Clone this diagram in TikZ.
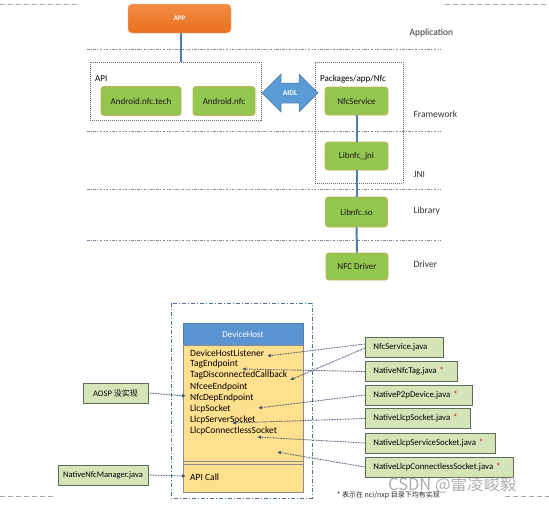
\documentclass[tikz,border=0pt]{standalone}
\usepackage{fontspec}
\setmainfont{Carlito}
\newfontfamily\cjk{Noto Sans CJK SC}
\usetikzlibrary{arrows.meta,calc}
\definecolor{appTop}{HTML}{F28C45}
\definecolor{appBot}{HTML}{E8701E}
\definecolor{greenfill}{HTML}{92C750}
\definecolor{greenedge}{HTML}{C9A95A}
\definecolor{linkblue}{HTML}{4A7EBB}
\definecolor{aidlblue}{HTML}{5B9BD5}
\definecolor{layerline}{HTML}{7F8C9F}
\definecolor{hdrblue}{HTML}{5B93D3}
\definecolor{bodyyellow}{HTML}{FFE08F}
\definecolor{jfill}{HTML}{D5E5B9}
\definecolor{jedge}{HTML}{5E6B55}
\definecolor{arrowcol}{HTML}{3E4F70}
\definecolor{outerbox}{HTML}{4F6F95}
\begin{document}
\begin{tikzpicture}[x=1pt,y=-1pt,
  greenbox/.style={draw=greenedge, line width=0.8pt, fill=greenfill, rounded corners=3pt,
    font=\fontsize{9}{10}\selectfont, text=black!90, inner sep=0pt},
  link/.style={draw=linkblue, line width=2pt},
  layerline/.style={draw=layerline, line width=0.6pt, dash pattern=on 2.5pt off 1.5pt on 0.8pt off 1.5pt},
  dotbox/.style={draw=black!60, line width=0.6pt, dash pattern=on 1pt off 1pt},
  layerlbl/.style={font=\fontsize{9.5}{11}\selectfont, text=black!80, anchor=west},
  item/.style={font=\fontsize{9.5}{11}\selectfont, text=black, anchor=west, inner sep=0pt},
  javabox/.style={draw=jedge, line width=0.8pt, fill=jfill, anchor=west, minimum height=20pt,
    inner xsep=8pt, inner ysep=0pt, text width=#1, align=left, font=\fontsize{8.8}{10}\selectfont},
  leftbox/.style={draw=jedge, line width=0.8pt, fill=jfill, minimum height=20pt,
    inner sep=0pt, font=\fontsize{8.5}{10}\selectfont},
  dotarrow/.style={draw=arrowcol, line width=0.9pt, dash pattern=on 0.8pt off 0.8pt,
    -{Latex[length=4pt,width=3.6pt]}},
  crop/.style={draw=black!35, line width=0.5pt, dash pattern=on 5pt off 3pt}
]
\useasboundingbox (0,0) rectangle (549,509);

% crop marks
\draw[crop] (0,4) -- (80,4);
\draw[crop] (445,4) -- (549,4);
\draw[crop] (0,496) -- (55,496);
\draw[crop] (505,496) -- (549,496);

% layer lines
\draw[layerline] (87,49) -- (440,49);
\draw[layerline] (87,131) -- (440,131);
\draw[layerline] (87,189) -- (440,189);
\draw[layerline] (87,240) -- (440,240);

% layer labels
\node[layerlbl] (lapp) at (406,33) {Application};
\node[layerlbl] (lfw) at (410,114) {Framework};
\node[layerlbl] (ljni) at (410,174) {JNI};
\node[layerlbl] (llib) at (410,211) {Library};
\node[layerlbl] (ldrv) at (410,264) {Driver};

% APP
\node[draw=appTop!70!white, top color=appTop, bottom color=appBot, rounded corners=4pt,
  minimum width=103, minimum height=29, text=white, inner sep=0pt,
  font=\bfseries\fontsize{7}{8}\selectfont] (app) at (179.5,18.5) {APP};

% API dotted box
\node[dotbox, minimum width=171, minimum height=58, inner sep=0pt] (apibox) at (175.5,91) {};
\node[anchor=west, font=\fontsize{9}{10}\selectfont, inner sep=0pt] (apilbl) at (95,79) {API};
\draw[link] (app.south -| 181,0) -- (apibox.north -| 181,0);

\node[greenbox, minimum width=80, minimum height=29] (tech) at (141,101) {Android.nfc.tech};
\node[greenbox, minimum width=62, minimum height=29] (anfc) at (224,101) {Android.nfc};

% Framework dotted box
\node[dotbox, minimum width=88, minimum height=121, inner sep=0pt] (fwbox) at (359,122.5) {};
\node[anchor=west, font=\fontsize{9}{10}\selectfont, inner sep=0pt] (pkg) at (320,79) {Packages/app/Nfc};

% AIDL arrow
\filldraw[fill=aidlblue, draw=aidlblue!80!black, line width=0.5pt]
  (262,93) -- (281,74) -- (281,83) -- (299,83) -- (299,74) -- (318,93)
  -- (299,112) -- (299,103) -- (281,103) -- (281,112) -- cycle;
\node[text=white, font=\bfseries\fontsize{7.5}{8}\selectfont] (aidl) at (290,93) {AIDL};

% stack
\node[greenbox, minimum width=63, minimum height=28] (nfcsvc) at (356.5,101) {NfcService};
\node[greenbox, minimum width=63, minimum height=28] (jni) at (356.5,156) {Libnfc\_jni};
\node[greenbox, minimum width=62, minimum height=30] (so) at (356.5,212) {Libnfc.so};
\node[greenbox, minimum width=62, minimum height=27] (drv) at (357,266.5) {NFC Driver};
\draw[link] (nfcsvc) -- (jni);
\draw[link] (jni) -- (so);
\draw[link] (so) -- (drv);

% ---------------- lower part ----------------
\draw[draw=outerbox, line width=1pt, dash pattern=on 4pt off 2pt on 1pt off 2pt]
  (171,303) rectangle (312,498);

\node[draw=hdrblue!85!black, line width=0.5pt, fill=hdrblue, minimum width=120, minimum height=22,
  inner sep=0pt, text=white, font=\fontsize{9}{10}\selectfont] (dh) at (243,334) {DeviceHost};
\node[draw=black!45, line width=0.6pt, fill=bodyyellow, minimum width=120, minimum height=147,
  inner sep=0pt, anchor=north] (dhbody) at (dh.south) {};
\draw[draw=black!45, line width=0.5pt] ($(dhbody.west)+(0,42.5)$) -- ($(dhbody.east)+(0,42.5)$);
\draw[draw=black!45, line width=0.5pt] ($(dhbody.west)+(0,45)$) -- ($(dhbody.east)+(0,45)$);

\node[item] (dhl) at (190,353) {DeviceHostListener};
\node[item] (te) at (190,364) {TagEndpoint};
\node[item] (tdc) at (190,375.5) {TagDisconnectedCallback};
\node[item] (nee) at (190,387) {NfceeEndpoint};
\node[item] (nde) at (190,398) {NfcDepEndpoint};
\node[item] (ls) at (190,409) {LlcpSocket};
\node[item] (lss) at (190,420) {LlcpServerSocket};
\node[item] (lcs) at (190,431) {LlcpConnectlessSocket};
\node[item] (apicall) at (190,477) {API Call};

% right boxes
\node[javabox=62] (jnfs) at (365,347) {NfcService.java};
\node[javabox=76] (jtag) at (365,371.5) {NativeNfcTag.java {\color{red!85!black}*}};
\node[javabox=91] (jp2p) at (365,395) {NativeP2pDevice.java {\color{red!85!black}*}};
\node[javabox=89] (jls) at (365,418.5) {NativeLlcpSocket.java {\color{red!85!black}*}};
\node[javabox=114] (jlss) at (365,443) {NativeLlcpServiceSocket.java {\color{red!85!black}*}};
\node[javabox=132] (jlcs) at (365,467) {NativeLlcpConnectlessSocket.java {\color{red!85!black}*}};

% left boxes
\node[leftbox, minimum width=65] (aosp) at (115.5,393) {AOSP {\cjk\fontsize{8}{9}\selectfont 没实现}};
\node[leftbox, minimum width=90] (nnm) at (103,475) {NativeNfcManager.java};

% arrow targets
\coordinate (t1) at (267,356);
\coordinate (t2) at (290,380);
\coordinate (t3) at (242,369);
\coordinate (t4) at (258,408);
\coordinate (t5) at (232,423);
\coordinate (t6) at (257,437);
\coordinate (t7) at (277,452);
\coordinate (t8) at (186,396);
\coordinate (t9) at (186,476);

\draw[dotarrow] ($(jnfs.west)+(0,-3)$) -- (t1);
\draw[dotarrow] ($(jnfs.west)+(0,1)$) -- (t2);
\draw[dotarrow] (jtag.west) -- (t3);
\draw[dotarrow] (jp2p.west) -- (t4);
\draw[dotarrow] (jls.west) -- (t5);
\draw[dotarrow] (jlss.west) -- (t6);
\draw[dotarrow] (jlcs.west) -- (t7);
\draw[dotarrow] (aosp.east) -- (t8);
\draw[dotarrow] (nnm.east) -- (t9);

% footnote and watermark
\node[anchor=west, inner sep=0pt, font=\cjk\fontsize{7}{8}\selectfont, text=black!85] (note) at (337,495)
  {* 表示在 nci/nxp 目录下均有实现};
\node[anchor=west, inner sep=0pt, font=\cjk\fontsize{16.5}{18}\selectfont, text=black!40, opacity=0.8] (wm) at (388,485)
  {CSDN @雷凌峻毅};
\end{tikzpicture}
\end{document}
